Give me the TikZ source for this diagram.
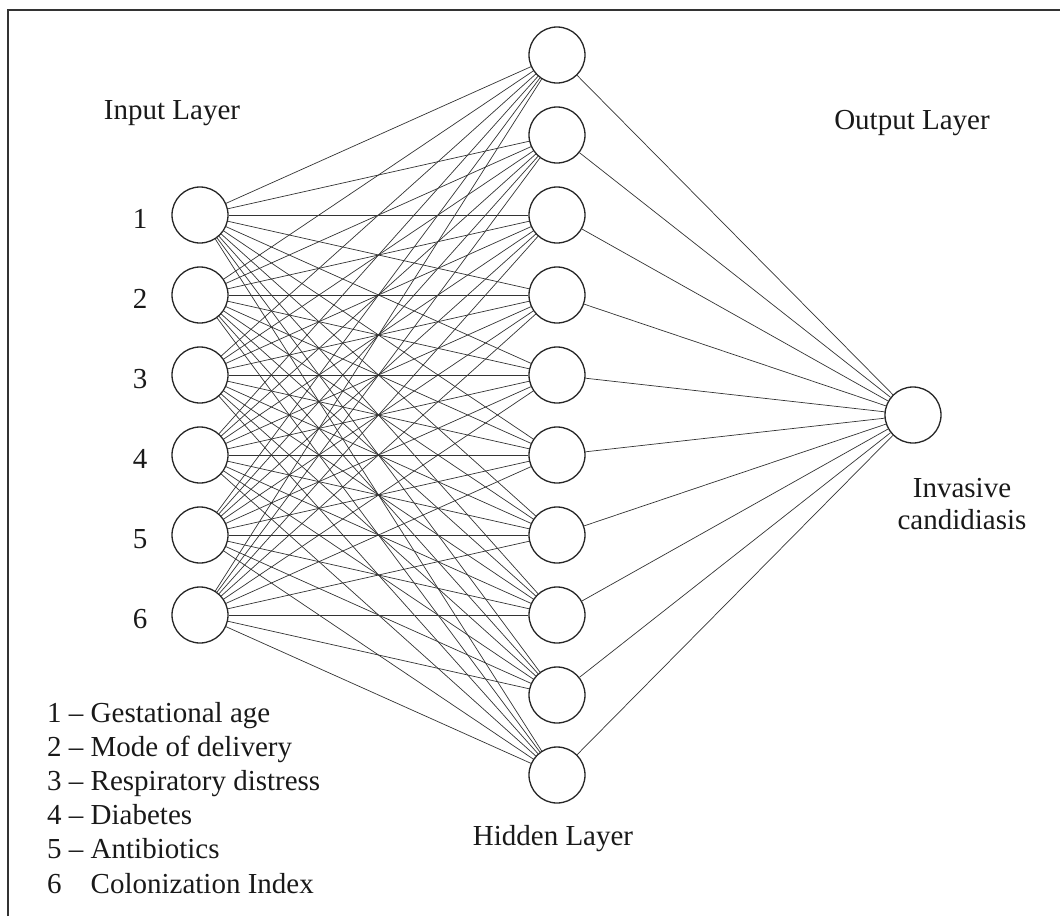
\documentclass[tikz,border=0pt]{standalone}
\usepackage{fontspec}
\setmainfont{Liberation Serif}
\begin{document}
\begin{tikzpicture}[x=1pt,y=-1pt,
  neuron/.style={circle, draw=black!85, line width=1.3pt, minimum size=56pt, inner sep=0pt, fill=white},
  link/.style={draw=black!80, line width=0.7pt},
  lbl/.style={font=\fontsize{29}{34}\selectfont, inner sep=0pt, text=black!90}]
\useasboundingbox (0,0) rectangle (1060,916);
\draw[line width=2.5pt, black!80] (8,916) -- (8,10) -- (1060,10);
% nodes
\foreach \i in {1,...,6} {
  \node[neuron] (in\i) at (200,{215+80*(\i-1)}) {};
  \node[lbl, anchor=base] (num\i) at (140,{228+80*(\i-1)}) {\i};
}
\foreach \j in {1,...,10} {
  \node[neuron] (hid\j) at (557,{55+80*(\j-1)}) {};
}
\node[neuron] (out) at (913,415) {};
% links
\begin{scope}[on background layer/.try]
\foreach \i in {1,...,6} \foreach \j in {1,...,10} \draw[link] (in\i) -- (hid\j);
\foreach \j in {1,...,10} \draw[link] (hid\j) -- (out);
\end{scope}
% labels
\node[lbl, anchor=base] (inlbl) at (172,119) {Input Layer};
\node[lbl, anchor=base] (outlbl) at (912,129) {Output Layer};
\node[lbl, anchor=base] (hidlbl) at (553,845) {Hidden Layer};
\node[lbl, anchor=base] (ic1) at (962,497) {Invasive};
\node[lbl, anchor=base] (ic2) at (962,529) {candidiasis};
% legend
\node[lbl, anchor=base west] (lg1) at (47,722) {1 – Gestational age};
\node[lbl, anchor=base west] (lg2) at (47,756.2) {2 – Mode of delivery};
\node[lbl, anchor=base west] (lg3) at (47,790.4) {3 – Respiratory distress};
\node[lbl, anchor=base west] (lg4) at (47,824.6) {4 – Diabetes};
\node[lbl, anchor=base west] (lg5) at (47,858.8) {5 – Antibiotics};
\node[lbl, anchor=base west] (lg6) at (47,893) {6 \phantom{–} Colonization Index};
\end{tikzpicture}
\end{document}
